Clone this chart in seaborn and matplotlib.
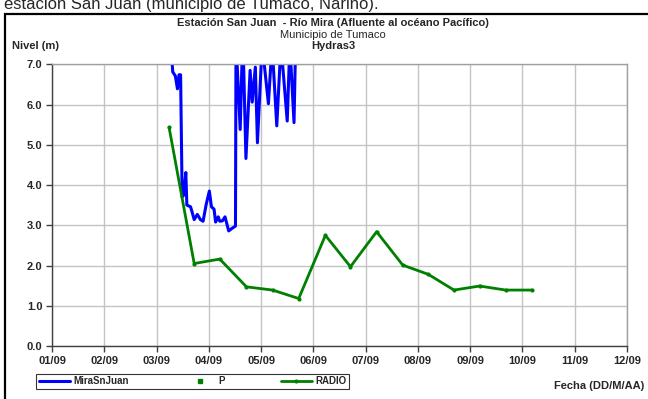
import matplotlib
matplotlib.use("Agg")
import matplotlib.pyplot as plt
import matplotlib.patches as mpatches
import seaborn as sns
import pandas as pd

# Datos (x = mes del 2009 como numero decimal)
meses_ticks = [1, 2, 3, 4, 5, 6, 7, 8, 9, 10, 11, 12]
etiquetas_x = ['01/09', '02/09', '03/09', '04/09', '05/09', '06/09',
               '07/09', '08/09', '09/09', '10/09', '11/09', '12/09']

mira_x = [3.29, 3.30, 3.31, 3.36, 3.40, 3.43, 3.46, 3.49, 3.52, 3.56, 3.58,
          3.65, 3.68, 3.72, 3.78, 3.84, 3.89, 3.95, 4.01, 4.05, 4.10, 4.13,
          4.18, 4.21, 4.26, 4.31, 4.34, 4.38, 4.44, 4.51, 4.52, 4.60, 4.65,
          4.71, 4.79, 4.83, 4.89, 4.93, 5.02, 5.14, 5.21, 5.30, 5.38, 5.50,
          5.55, 5.63, 5.66]
mira_y = [7.30, 7.00, 6.81, 6.71, 6.39, 6.74, 6.74, 3.70, 3.75, 4.31, 3.50,
          3.46, 3.33, 3.14, 3.27, 3.14, 3.10, 3.52, 3.85, 3.46, 3.40, 3.08,
          3.21, 3.10, 3.11, 3.21, 3.06, 2.86, 2.92, 2.98, 7.60, 5.38, 7.80,
          4.66, 6.85, 6.06, 6.93, 5.05, 7.50, 6.02, 7.50, 5.47, 7.50, 5.59,
          7.50, 5.55, 7.50]

radio_x = [3.24, 3.72, 4.21, 4.72, 5.22, 5.72, 6.23, 6.71, 7.21, 7.71,
           8.20, 8.69, 9.18, 9.68, 10.19]
radio_y = [5.43, 2.05, 2.16, 1.47, 1.39, 1.18, 2.75, 1.97, 2.84, 2.01,
           1.78, 1.39, 1.49, 1.39, 1.39]

p_x = []
p_y = []

sns.set_style("whitegrid")
plt.rcParams['font.family'] = ['Liberation Sans', 'DejaVu Sans']

fig = plt.figure(figsize=(6.48, 3.99), dpi=100)
ax = fig.add_axes([52 / 648, 1 - 346 / 399, 575 / 648, (346 - 64.3) / 399])

df_mira = pd.DataFrame({'x': mira_x, 'y': mira_y})
df_radio = pd.DataFrame({'x': radio_x, 'y': radio_y})

sns.lineplot(data=df_mira, x='x', y='y', ax=ax, sort=False, estimator=None,
             color='#0000ff', linewidth=2.2, label='MiraSnJuan')
ax.plot(p_x, p_y, linestyle='none', marker='s', markersize=2.5,
        color='#008000', label='P')
sns.lineplot(data=df_radio, x='x', y='y', ax=ax, sort=False, estimator=None,
             color='#008000', linewidth=2.0, marker='o', markersize=3,
             markeredgewidth=0, label='RADIO')

ax.set_xlim(1, 12)
ax.set_ylim(0, 7)
ax.set_xticks(meses_ticks)
ax.set_xticklabels(etiquetas_x, fontweight='bold', fontsize=8)
ax.set_yticks([0, 1, 2, 3, 4, 5, 6, 7])
ax.set_yticklabels(['%.1f' % v for v in range(8)], fontweight='bold', fontsize=8)
ax.set_xlabel('')
ax.set_ylabel('')
ax.grid(True, color='#c4c4c4', linewidth=1.0)
ax.tick_params(axis='both', length=4, width=1, color='#404040', pad=3,
               direction='out', bottom=True, left=True)
for lado in ['left', 'bottom']:
    ax.spines[lado].set_color('#404040')
    ax.spines[lado].set_linewidth(1.0)
for lado in ['top', 'right']:
    ax.spines[lado].set_color('#a0a0a0')
    ax.spines[lado].set_linewidth(1.0)

ax.get_legend().remove()
handles, labels = ax.get_legend_handles_labels()
leg = fig.legend(handles, labels, loc='center', ncol=3, mode='expand',
                 bbox_to_anchor=(36 / 648, 1 - 390 / 399, 313 / 648, 17 / 399),
                 prop={'weight': 'bold', 'size': 7}, frameon=True,
                 fancybox=False, edgecolor='black', handlelength=3.2,
                 borderpad=0.3, borderaxespad=0, handletextpad=0.3)
leg.get_frame().set_linewidth(0.8)

# Textos
fig.text(333 / 648, 1 - 23 / 399, 'Estación San Juan  - Río Mira (Afluente al océano Pacífico)',
         ha='center', va='center', fontsize=8, fontweight='bold')
fig.text(333 / 648, 1 - 34.5 / 399, 'Municipio de Tumaco',
         ha='center', va='center', fontsize=8)
fig.text(333 / 648, 1 - 46 / 399, 'Hydras3',
         ha='center', va='center', fontsize=8, fontweight='bold')
fig.text(12 / 648, 1 - 46 / 399, 'Nivel (m)',
         ha='left', va='center', fontsize=8, fontweight='bold')
fig.text(644 / 648, 1 - 386 / 399, 'Fecha (DD/M/AA)',
         ha='right', va='center', fontsize=8, fontweight='bold')
fig.text(4 / 648, 1 - 9 / 399, 'estación San Juan (municipio de Tumaco, Nariño).',
         ha='left', va='baseline', fontsize=12)

# Marco exterior
marco = mpatches.Rectangle((5 / 648, -0.05), 1.0, 1 - 14 / 399 + 0.05,
                           transform=fig.transFigure, fill=False,
                           edgecolor='black', linewidth=1.6)
fig.patches.append(marco)

plt.savefig('out.png', dpi=100)
